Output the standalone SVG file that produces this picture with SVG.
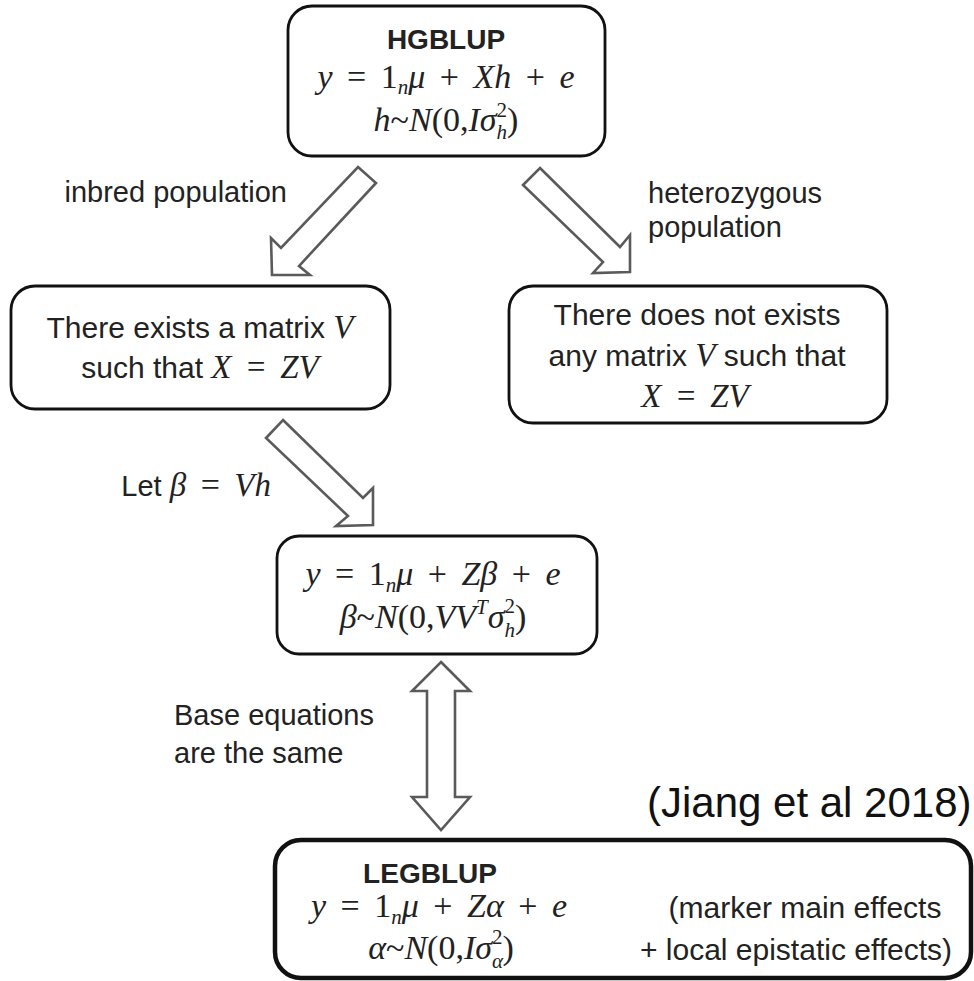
<svg xmlns="http://www.w3.org/2000/svg" width="974" height="981" viewBox="0 0 974 981">
<style>
.box{fill:#fff;stroke:#111;stroke-width:2.8}
.boxb{fill:#fff;stroke:#111;stroke-width:4.5}
.arr{fill:#fff;stroke:#5a5a5a;stroke-width:2.6;stroke-linejoin:miter}
.t{font-family:"Liberation Sans",Arial,sans-serif;font-size:30px;fill:#222}
.l{font-family:"Liberation Sans",Arial,sans-serif;font-size:29px;fill:#222}
.b{font-family:"Liberation Sans",Arial,sans-serif;font-size:28px;font-weight:bold;fill:#222}
.m{font-family:"Liberation Serif","Times New Roman",serif;font-size:34px;fill:#222;word-spacing:6px}
.mi{font-family:"Liberation Serif","Times New Roman",serif;font-size:33px;font-style:italic;word-spacing:5px}
.i{font-style:italic}
.s{font-size:21px}
.cite{font-family:"Liberation Sans",Arial,sans-serif;font-size:42px;fill:#111}
</style>
<g id="connectors">
<polygon class="arr" points="358,167 376,183 299,266 310,275 272,275 271,238 281,248"/>
<polygon class="arr" points="540,168 620,247 630,235 630,272 593,273 603,262 523,185"/>
<polygon class="arr" points="283,420 363,498 373,488 373,525 336,526 348,516 266,438"/>
<polygon class="arr" points="441,662 470,691 455,691 455,797 470,797 441,830 412,797 427,797 427,691 412,691"/>
</g>
<g id="labels">
<text class="l" x="287" y="202" text-anchor="end">inbred population</text>
<text class="l" x="648" y="203">heterozygous</text>
<text class="l" x="648" y="237">population</text>
<text class="l" x="271" y="496" text-anchor="end">Let <tspan class="mi">β</tspan><tspan class="m"> = </tspan><tspan class="mi">Vh</tspan></text>
<text class="l" x="174" y="725">Base equations</text>
<text class="l" x="174" y="763">are the same</text>
<text class="cite" x="647" y="817">(Jiang et al 2018)</text>
</g>
<g id="hgblup">
<rect class="box" x="288" y="6" width="317" height="150" rx="24"/>
<text class="b" x="446" y="49" text-anchor="middle">HGBLUP</text>
<text class="m" x="446" y="88" text-anchor="middle"><tspan class="i">y</tspan> = 1<tspan class="i s" dy="6">n</tspan><tspan class="i" dy="-6">μ</tspan> + <tspan class="i">Xh</tspan> + <tspan class="i">e</tspan></text>
<text class="m" x="446" y="131" text-anchor="middle"><tspan class="i">h</tspan>~<tspan class="i">N</tspan>(0,<tspan class="i">Iσ</tspan><tspan class="i s" dy="8">h</tspan><tspan class="s" dx="-10.5" dy="-22">2</tspan><tspan dy="14">)</tspan></text>
</g>
<g id="inbred">
<rect class="box" x="11" y="286" width="379" height="123" rx="24"/>
<text class="t" x="200" y="338" text-anchor="middle">There exists a matrix <tspan class="mi">V</tspan></text>
<text class="t" x="200" y="378" text-anchor="middle">such that <tspan class="mi">X = ZV</tspan></text>
</g>
<g id="heterozygous">
<rect class="box" x="509" y="286" width="378" height="137" rx="24"/>
<text class="t" x="697" y="325" text-anchor="middle">There does not exists</text>
<text class="t" x="697" y="366" text-anchor="middle">any matrix <tspan class="mi">V</tspan> such that</text>
<text class="t" x="695" y="407" text-anchor="middle"><tspan class="mi">X = ZV</tspan></text>
</g>
<g id="zbeta">
<rect class="box" x="277" y="536" width="320" height="118" rx="22"/>
<text class="m" x="433" y="585" text-anchor="middle"><tspan class="i">y</tspan> = 1<tspan class="i s" dy="7">n</tspan><tspan class="i" dy="-7">μ</tspan> + <tspan class="i">Zβ</tspan> + <tspan class="i">e</tspan></text>
<text class="m" x="433" y="628" text-anchor="middle"><tspan class="i">β</tspan>~<tspan class="i">N</tspan>(0,<tspan class="i">VV</tspan><tspan class="i s" dy="-14">T</tspan><tspan class="i" dy="14">σ</tspan><tspan class="i s" dy="9">h</tspan><tspan class="s" dx="-10.5" dy="-24">2</tspan><tspan dy="15">)</tspan></text>
</g>
<g id="legblup">
<rect class="boxb" x="275" y="840" width="696" height="138" rx="26"/>
<text class="b" x="430" y="883" text-anchor="middle">LEGBLUP</text>
<text class="m" x="439" y="917" text-anchor="middle"><tspan class="i">y</tspan> = 1<tspan class="i s" dy="7">n</tspan><tspan class="i" dy="-7">μ</tspan> + <tspan class="i">Zα</tspan> + <tspan class="i">e</tspan></text>
<text class="m" x="441" y="959" text-anchor="middle"><tspan class="i">α</tspan>~<tspan class="i">N</tspan>(0,<tspan class="i">Iσ</tspan><tspan class="i s" dy="9">α</tspan><tspan class="s" dx="-11" dy="-24">2</tspan><tspan dy="15">)</tspan></text>
<text class="t" x="805" y="918" text-anchor="middle">(marker main effects</text>
<text class="t" x="796" y="960" text-anchor="middle">+ local epistatic effects)</text>
</g>
</svg>
